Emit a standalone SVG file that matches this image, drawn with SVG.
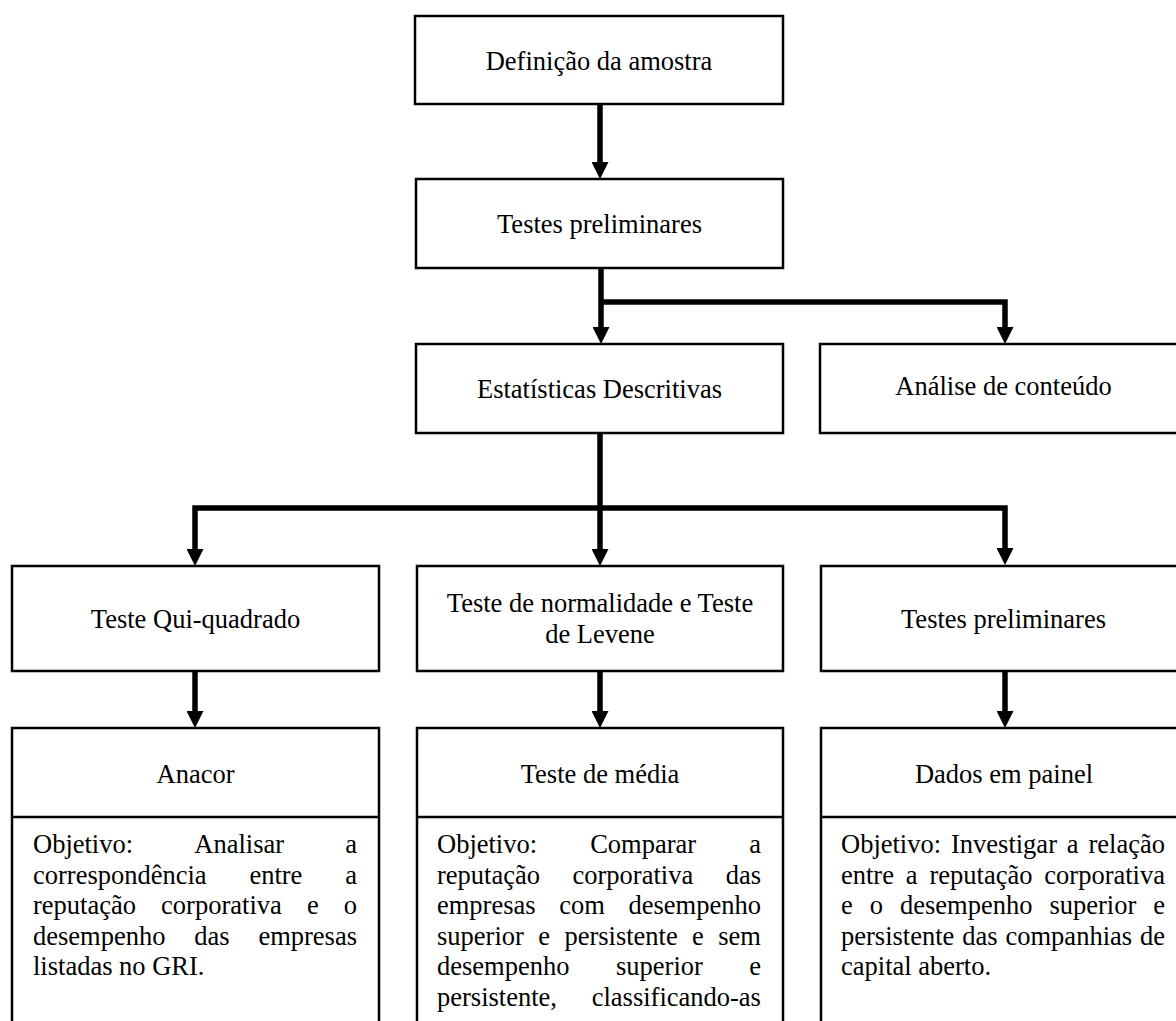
<svg xmlns="http://www.w3.org/2000/svg" width="1176" height="1021" viewBox="0 0 1176 1021">
  <defs>
    <!-- filled arrowhead; tip sits 10px past the end of the path -->
    <marker id="arrow" viewBox="0 0 17 17" refX="7" refY="8.5" markerWidth="17" markerHeight="17" markerUnits="userSpaceOnUse" orient="auto">
      <path d="M0,0 L17,8.5 L0,17 Z" fill="#000"/>
    </marker>
    <style>
      .box { fill: #fff; stroke: #000; stroke-width: 2.5; }
      .sep { stroke: #000; stroke-width: 2.5; fill: none; }
      .lbl { font-family: "Liberation Serif", "Times New Roman", serif; font-size: 26.5px; fill: #000; text-anchor: middle; }
      .body { font-family: "Liberation Serif", "Times New Roman", serif; font-size: 26.5px; fill: #000; }
      .wire { stroke: #000; stroke-width: 5.5; fill: none; stroke-linejoin: miter; }
      .arr { marker-end: url(#arrow); }
    </style>
  </defs>

  <!-- connectors -->
  <g id="connectors">
    <path class="wire arr" d="M600,104 V169"/>
    <path class="wire arr" d="M601,268 V334"/>
    <path class="wire arr" d="M601,302 H1005 V334"/>
    <path class="wire arr" d="M600,433 V556"/>
    <path class="wire arr" d="M600,508 H195 V556"/>
    <path class="wire arr" d="M600,508 H1005 V555"/>
    <path class="wire arr" d="M195,671 V718"/>
    <path class="wire arr" d="M600,671 V718"/>
    <path class="wire arr" d="M1005,671 V718"/>
  </g>

  <!-- row 1 -->
  <g id="n-definicao">
    <rect class="box" x="415" y="16" width="368" height="88"/>
    <text class="lbl" x="599" y="70">Definição da amostra</text>
  </g>
  <g id="n-testes-prelim-top">
    <rect class="box" x="416" y="179" width="367" height="89"/>
    <text class="lbl" x="599.5" y="233">Testes preliminares</text>
  </g>

  <!-- row 2 -->
  <g id="n-estatisticas">
    <rect class="box" x="416" y="344" width="367" height="89"/>
    <text class="lbl" x="599.5" y="398">Estatísticas Descritivas</text>
  </g>
  <g id="n-analise">
    <rect class="box" x="820" y="344" width="367" height="89"/>
    <text class="lbl" x="1003.5" y="395">Análise de conteúdo</text>
  </g>

  <!-- row 3 -->
  <g id="n-qui">
    <rect class="box" x="12" y="566" width="367" height="105"/>
    <text class="lbl" x="195.5" y="628">Teste Qui-quadrado</text>
  </g>
  <g id="n-normalidade">
    <rect class="box" x="417" y="566" width="366" height="105"/>
    <text class="lbl" x="600" y="612">Teste de normalidade e Teste</text>
    <text class="lbl" x="600" y="643">de Levene</text>
  </g>
  <g id="n-testes-prelim-right">
    <rect class="box" x="821" y="566" width="367" height="105"/>
    <text class="lbl" x="1003.5" y="628">Testes preliminares</text>
  </g>

  <!-- row 4: method boxes with objective -->
  <g id="n-anacor">
    <rect class="box" x="12" y="728" width="367" height="310"/>
    <line class="sep" x1="12" y1="817" x2="379" y2="817"/>
    <text class="lbl" x="195.5" y="783">Anacor</text>
    <text class="body" y="853"><tspan x="33">Objetivo:</tspan><tspan x="194.3">Analisar</tspan><tspan x="345.2">a</tspan></text>
    <text class="body" y="883.5"><tspan x="33">correspondência</tspan><tspan x="249.4">entre</tspan><tspan x="345.2">a</tspan></text>
    <text class="body" y="914"><tspan x="33">reputação</tspan><tspan x="161.1">corporativa</tspan><tspan x="306.9">e</tspan><tspan x="343.8">o</tspan></text>
    <text class="body" y="944.5"><tspan x="33">desempenho</tspan><tspan x="194.3">das</tspan><tspan x="258.4">empresas</tspan></text>
    <text class="body" y="975" x="33">listadas no GRI.</text>
  </g>

  <g id="n-media">
    <rect class="box" x="417" y="728" width="366" height="310"/>
    <line class="sep" x1="417" y1="817" x2="783" y2="817"/>
    <text class="lbl" x="600" y="783">Teste de média</text>
    <text class="body" y="853"><tspan x="437">Objetivo:</tspan><tspan x="590.2">Comparar</tspan><tspan x="749.2">a</tspan></text>
    <text class="body" y="883.5"><tspan x="437">reputação</tspan><tspan x="572.5">corporativa</tspan><tspan x="725.7">das</tspan></text>
    <text class="body" y="914"><tspan x="437">empresas</tspan><tspan x="559.3">com</tspan><tspan x="628.5">desempenho</tspan></text>
    <text class="body" y="944.5"><tspan x="437">superior</tspan><tspan x="538.2">e</tspan><tspan x="564.4">persistente</tspan><tspan x="692.1">e</tspan><tspan x="718.3">sem</tspan></text>
    <text class="body" y="975"><tspan x="437">desempenho</tspan><tspan x="616">superior</tspan><tspan x="749.2">e</tspan></text>
    <text class="body" y="1005.5"><tspan x="437">persistente,</tspan><tspan x="591.7">classificando-as</tspan></text>
  </g>

  <g id="n-painel">
    <rect class="box" x="821" y="728" width="367" height="310"/>
    <line class="sep" x1="821" y1="817" x2="1188" y2="817"/>
    <text class="lbl" x="1004" y="783">Dados em painel</text>
    <text class="body" y="853"><tspan x="841">Objetivo:</tspan><tspan x="951">Investigar</tspan><tspan x="1066.8">a</tspan><tspan x="1088.5">relação</tspan></text>
    <text class="body" y="883.5"><tspan x="841">entre</tspan><tspan x="905.8">a</tspan><tspan x="929.5">reputação</tspan><tspan x="1044.3">corporativa</tspan></text>
    <text class="body" y="914"><tspan x="841">e</tspan><tspan x="869.8">o</tspan><tspan x="900">desempenho</tspan><tspan x="1049.4">superior</tspan><tspan x="1153.2">e</tspan></text>
    <text class="body" y="944.5"><tspan x="841">persistente</tspan><tspan x="962.2">das</tspan><tspan x="1005.5">companhias</tspan><tspan x="1140">de</tspan></text>
    <text class="body" y="975" x="841">capital aberto.</text>
  </g>
</svg>
